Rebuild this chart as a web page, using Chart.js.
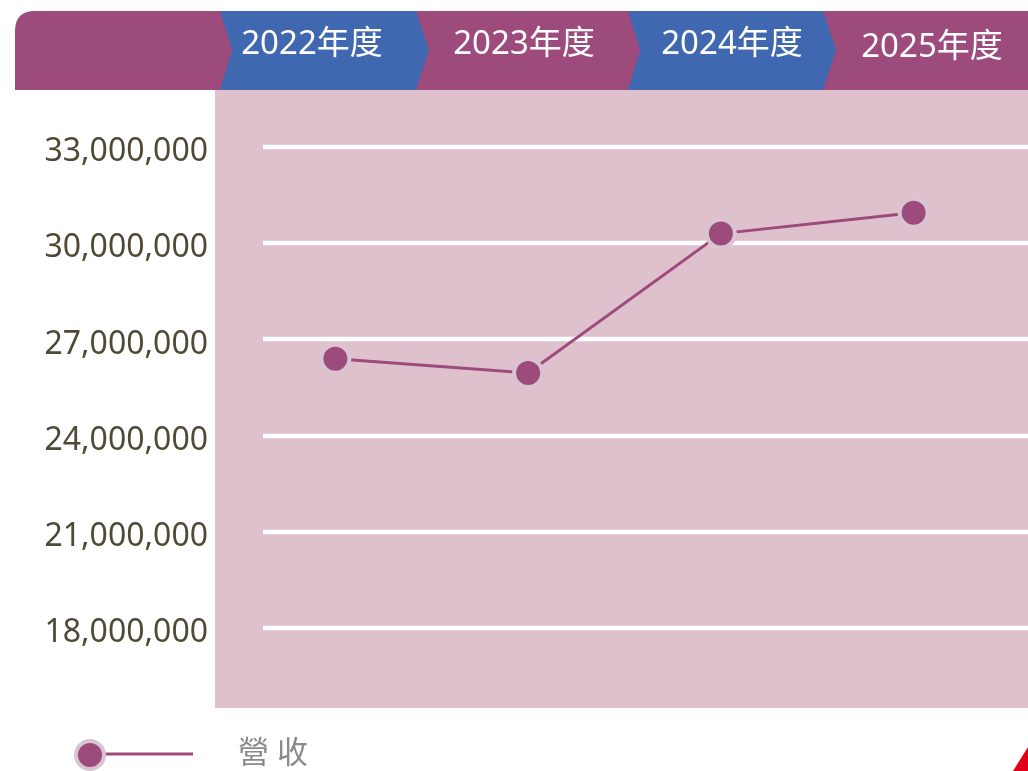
<!DOCTYPE html>
<html lang="zh-Hant">
<head>
    <meta charset="UTF-8">
    <title>營收</title>
    <style>
        html, body { margin: 0; padding: 0; background: #ffffff; }
        canvas { display: block; }
    </style>
    <script src="https://cdn.jsdelivr.net/npm/chart.js"></script>
</head>
<body>
    <canvas id="revenueChart" width="1028" height="771"></canvas>

    <script>
        // Chart data
        const years = ['2022年度', '2023年度', '2024年度', '2025年度'];
        const revenue = [26400000, 25950000, 30300000, 30950000];
        const yTicks = [18000000, 21000000, 24000000, 27000000, 30000000, 33000000];
        const seriesName = '營 收';

        const purple = '#9d4a7d';
        const blue = '#4068b0';
        const pink = '#dfc1cd';
        const fontStack = '"Noto Sans", "Noto Sans CJK TC", sans-serif';

        // Header band, plot background, gridlines, legend
        const decorPlugin = {
            id: 'decor',
            beforeDraw(chart) {
                const ctx = chart.ctx;
                ctx.save();
                // pink plot background
                ctx.fillStyle = pink;
                ctx.fillRect(215, 90, 813, 618);

                // header band (rounded top-left)
                const top = 11, bot = 90, mid = 50, r = 20;
                ctx.fillStyle = purple;
                ctx.beginPath();
                ctx.moveTo(15, bot);
                ctx.lineTo(15, top + r);
                ctx.quadraticCurveTo(15, top, 15 + r, top);
                ctx.lineTo(1028, top);
                ctx.lineTo(1028, bot);
                ctx.closePath();
                ctx.fill();

                // blue chevrons for 2022 and 2024
                const segs = [[220, 416], [628, 823]];
                ctx.fillStyle = blue;
                segs.forEach(([a, b]) => {
                    ctx.beginPath();
                    ctx.moveTo(a, top);
                    ctx.lineTo(b, top);
                    ctx.lineTo(b + 13, mid);
                    ctx.lineTo(b, bot);
                    ctx.lineTo(a, bot);
                    ctx.lineTo(a + 12, mid);
                    ctx.closePath();
                    ctx.fill();
                });

                // header labels
                const centers = [312, 524, 732, 932];
                ctx.fillStyle = '#ffffff';
                ctx.font = '33px ' + fontStack;
                ctx.textAlign = 'center';
                ctx.textBaseline = 'middle';
                chart.data.labels.forEach((lab, i) => {
                    ctx.fillText(lab, centers[i], i === 3 ? 48 : 45);
                });

                // red corner mark
                ctx.fillStyle = '#e00019';
                ctx.beginPath();
                ctx.moveTo(1013, 771);
                ctx.lineTo(1028, 747);
                ctx.lineTo(1028, 771);
                ctx.closePath();
                ctx.fill();

                // legend
                const ds = chart.data.datasets[0];
                ctx.strokeStyle = ds.borderColor;
                ctx.lineWidth = 3;
                ctx.beginPath();
                ctx.moveTo(90, 754);
                ctx.lineTo(193, 754);
                ctx.stroke();
                ctx.beginPath();
                ctx.arc(90, 755, 14, 0, Math.PI * 2);
                ctx.fillStyle = ds.pointBackgroundColor;
                ctx.fill();
                ctx.lineWidth = 4;
                ctx.strokeStyle = ds.pointBorderColor;
                ctx.stroke();
                ctx.fillStyle = '#8a8a8a';
                ctx.font = '31px ' + fontStack;
                ctx.textAlign = 'left';
                ctx.fillText(ds.label, 238, 754);
                ctx.restore();
            },
            beforeDatasetsDraw(chart) {
                const ctx = chart.ctx;
                const y = chart.scales.y;
                ctx.save();
                ctx.strokeStyle = '#ffffff';
                ctx.lineWidth = 4.5;
                y.ticks.forEach(t => {
                    const py = Math.round(y.getPixelForValue(t.value));
                    ctx.beginPath();
                    ctx.moveTo(263, py);
                    ctx.lineTo(1028, py);
                    ctx.stroke();
                });
                ctx.restore();
            }
        };

        const ctx = document.getElementById('revenueChart').getContext('2d');
        const revenueChart = new Chart(ctx, {
            type: 'line',
            data: {
                labels: years,
                datasets: [{
                    label: seriesName,
                    data: revenue,
                    borderColor: purple,
                    borderWidth: 3,
                    pointRadius: 14,
                    pointHoverRadius: 14,
                    pointBackgroundColor: purple,
                    pointBorderColor: '#d9c4d2',
                    pointBorderWidth: 4,
                    tension: 0,
                    fill: false
                }]
            },
            options: {
                responsive: false,
                animation: false,
                layout: {
                    padding: { top: 147, bottom: 143, left: 0, right: 17 }
                },
                scales: {
                    x: {
                        display: false,
                        offset: true
                    },
                    y: {
                        min: 18000000,
                        max: 33000000,
                        grid: { display: false, drawTicks: false },
                        border: { display: false },
                        afterBuildTicks(scale) {
                            scale.ticks = yTicks.map(v => ({ value: v }));
                        },
                        afterFit(scale) {
                            scale.width = 239;
                        },
                        ticks: {
                            padding: 31,
                            labelOffset: 5,
                            color: '#4f4a35',
                            font: { family: fontStack, size: 32 },
                            callback: v => v.toLocaleString('en-US')
                        }
                    }
                },
                plugins: {
                    legend: { display: false },
                    tooltip: { enabled: false }
                }
            },
            plugins: [decorPlugin]
        });
    </script>
</body>
</html>
